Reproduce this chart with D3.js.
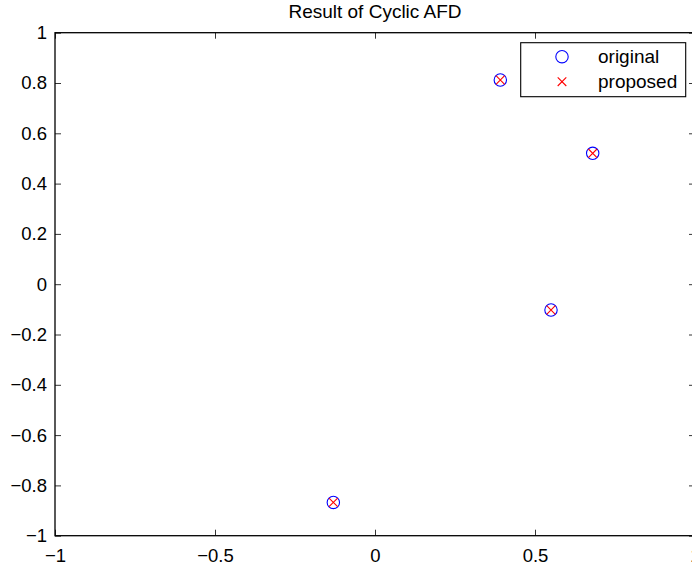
<!DOCTYPE html>
<html><head><meta charset="utf-8">
<script src="https://cdn.jsdelivr.net/npm/d3@7"></script>
<style>body{margin:0;background:#fff}svg{display:block;font-family:"Liberation Sans",Arial,Helvetica,sans-serif}</style>
</head><body><svg id="c" width="692" height="569"></svg>
<script>
const originalX = [0.3916, 0.6803, 0.5500, -0.1302];
const originalY = [0.8120, 0.5205, -0.1026, -0.8676];
const proposedX = [0.3916, 0.6803, 0.5500, -0.1302];
const proposedY = [0.8120, 0.5205, -0.1026, -0.8676];
const xTicks = [-1, -0.5, 0, 0.5, 1];
const yTicks = [-1, -0.8, -0.6, -0.4, -0.2, 0, 0.2, 0.4, 0.6, 0.8, 1];
const legendLabels = ["original", "proposed"];
const title = "Result of Cyclic AFD";

const svg = d3.select("#c");
const L = 55, R = 695, T = 32.7, B = 535.7;
const x = d3.scaleLinear().domain([-1, 1]).range([L, R]);
const y = d3.scaleLinear().domain([-1, 1]).range([B, T]);
const fmt = v => (v < 0 ? "\u2212" : "") + String(Math.abs(Math.round(v*10)/10));

const tl = 6;
const g = svg.append("g");
const bx = d3.axisBottom(x).tickValues(xTicks).tickSize(-tl).tickPadding(13).tickFormat(fmt);
const gb = g.append("g").attr("transform", `translate(0,${B})`).call(bx);
const tx = d3.axisTop(x).tickValues(xTicks).tickSize(-tl).tickFormat("");
const gt = g.append("g").attr("transform", `translate(0,${T})`).call(tx);
const ly = d3.axisLeft(y).tickValues(yTicks).tickSize(-tl).tickPadding(8).tickFormat(fmt);
const gl = g.append("g").attr("transform", `translate(${L},0)`).call(ly);
const ry = d3.axisRight(y).tickValues(yTicks).tickSize(-tl).tickFormat("");
const gr = g.append("g").attr("transform", `translate(${R},0)`).call(ry);
[gb, gt, gl, gr].forEach(a => {
  a.select(".domain").remove();
  a.selectAll(".tick line").attr("stroke", "#000").attr("stroke-width", 0.8);
  a.selectAll("text").attr("font-size", 18.5).attr("fill", "#000").attr("font-family", '"Liberation Sans",Arial,sans-serif');
});
gb.selectAll("text").attr("dy", "0.71em");
g.append("rect").attr("x", L).attr("y", T).attr("width", R - L).attr("height", B - T)
  .attr("fill", "none").attr("stroke", "#000").attr("stroke-width", 1.3);

svg.append("text").attr("x", 375).attr("y", 17.5).attr("text-anchor", "middle")
  .attr("font-size", 19).text(title);

const data = originalX.map((d, i) => ({ox: d, oy: originalY[i], px: proposedX[i], py: proposedY[i]}));
const r = 6.2, s = 4.3;
svg.append("g").selectAll("circle").data(data).join("circle")
  .attr("cx", d => x(d.ox)).attr("cy", d => y(d.oy)).attr("r", r)
  .attr("fill", "none").attr("stroke", "#0000ff").attr("stroke-width", 1.1);
const xm = svg.append("g");
data.forEach(d => {
  const cx = x(d.px), cy = y(d.py);
  xm.append("path").attr("d", `M${cx-s},${cy-s}L${cx+s},${cy+s}M${cx-s},${cy+s}L${cx+s},${cy-s}`)
    .attr("stroke", "#ff0000").attr("stroke-width", 1.1).attr("fill", "none");
});

const lg = svg.append("g");
lg.append("rect").attr("x", 520.7).attr("y", 42.7).attr("width", 165).attr("height", 54)
  .attr("fill", "#fff").attr("stroke", "#000").attr("stroke-width", 1.1);
lg.append("circle").attr("cx", 562).attr("cy", 56.7).attr("r", r).attr("fill", "none").attr("stroke", "#0000ff").attr("stroke-width", 1.1);
lg.append("path").attr("d", `M${562-s},${81.7-s}L${562+s},${81.7+s}M${562-s},${81.7+s}L${562+s},${81.7-s}`)
  .attr("stroke", "#ff0000").attr("stroke-width", 1.1).attr("fill", "none");
lg.selectAll("text").data(legendLabels).join("text")
  .attr("x", 598).attr("y", (d, i) => 56.7 + i * 25).attr("dy", "0.35em")
  .attr("font-size", 19).text(d => d);
</script></body></html>
